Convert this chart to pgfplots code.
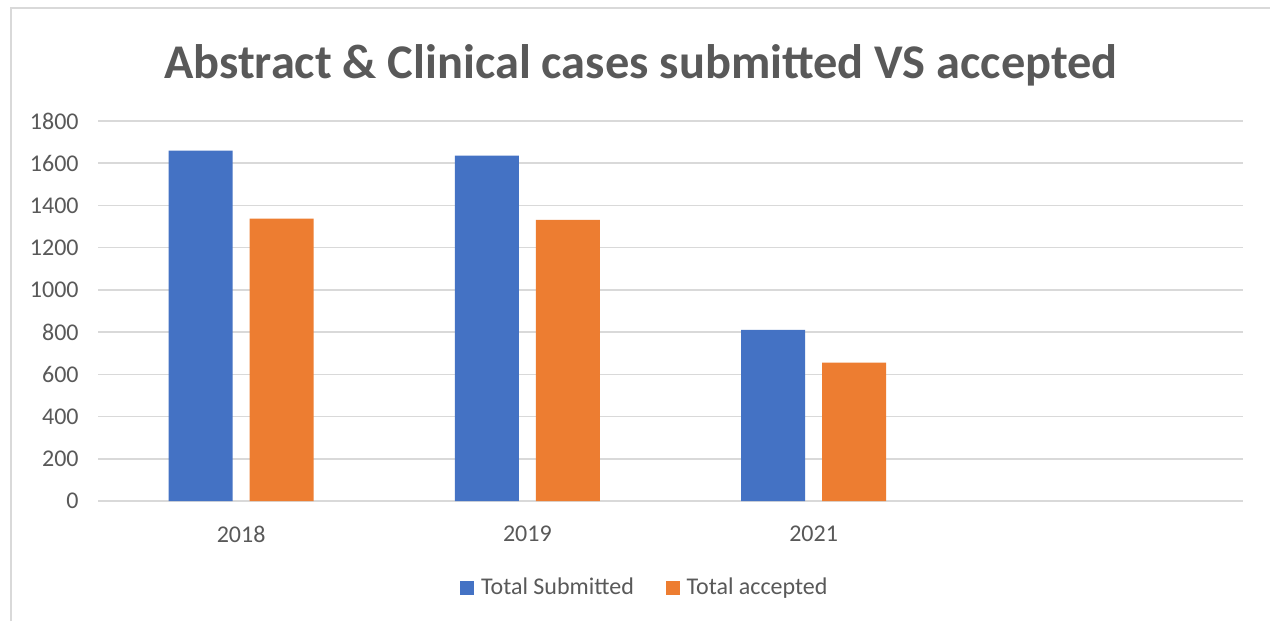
\documentclass[border=0pt]{standalone}
\usepackage{fontspec}
\setmainfont{Carlito}
\usepackage{pgfplots}
\pgfplotsset{compat=1.18}
\definecolor{cblue}{HTML}{4472C4}
\definecolor{corange}{HTML}{ED7D31}
\definecolor{ctext}{HTML}{595959}
\definecolor{cgrid}{HTML}{D9D9D9}
\begin{document}
\begin{tikzpicture}
\begin{scope}[x=0.75pt,y=-0.75pt]
\useasboundingbox (0,0) rectangle (1270,621);
\fill[white] (0,0) rectangle (1270,621);
\draw[cgrid,line width=1.2pt] (11,621) -- (11,8) -- (1270,8);
\node[text=ctext,font=\fontsize{36.3}{42}\selectfont\bfseries] at (641,65) {Abstract \& Clinical cases submitted VS accepted};
\end{scope}
\begin{axis}[
  at={(73.5pt,-375.75pt)}, anchor=south west,
  scale only axis, width=858.75pt, height=285pt,
  ybar=12.75pt, bar width=48pt,
  xmin=-0.5, xmax=3.5, ymin=0, ymax=1800,
  ytick={0,200,...,1800},
  xtick={0,1,2}, xticklabels={2018,2019,2021},
  axis line style={draw=none},
  major tick length=0pt,
  ymajorgrids, grid style={cgrid,line width=1.2pt},
  tick label style={text=ctext,font=\fontsize{18}{21}\selectfont},
  /pgf/number format/assume math mode=true,
  /pgf/number format/set thousands separator={},
  yticklabel style={xshift=-11pt},
  xticklabel style={yshift=-15pt},
  legend style={at={(0.478,-0.228)}, anchor=center, draw=none, fill=none,
    legend columns=2, font=\fontsize{18}{21}\selectfont, text=ctext,
    /tikz/every odd column/.append style={column sep=3pt},
    /tikz/every even column/.append style={column sep=22pt}},
  legend image code/.code={\fill[#1] (0pt,-5.25pt) rectangle (10.5pt,5.25pt);},
]
\addplot[fill=cblue, draw=none] coordinates {(0,1660) (1,1636) (2,811)};
\addplot[fill=corange, draw=none] coordinates {(0,1337) (1,1332) (2,655)};
\legend{Total Submitted, Total accepted}
\end{axis}
\end{tikzpicture}
\end{document}
